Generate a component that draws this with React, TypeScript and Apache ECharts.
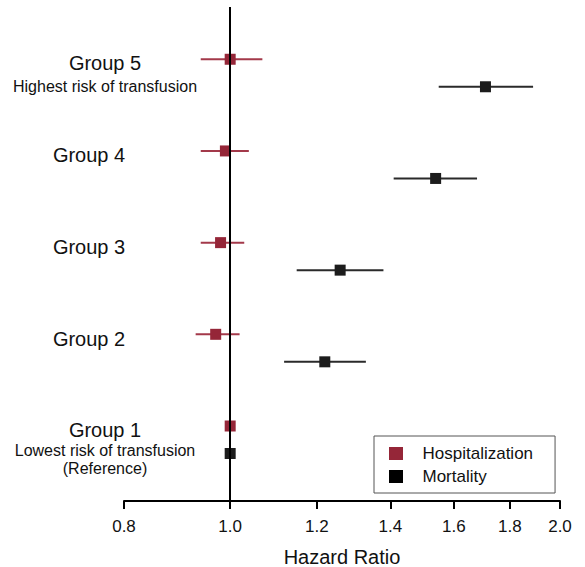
import React, { useEffect, useRef } from "react";
import * as echarts from "echarts";

// ---- Data (hazard ratios) ----
const groupNumbers = [1, 2, 3, 4, 5];
const hospHR = [1.0, 0.97, 0.98, 0.99, 1.0];
const hospLow = [1.0, 0.93, 0.94, 0.94, 0.94];
const hospHigh = [1.0, 1.02, 1.03, 1.04, 1.07];
const mortHR = [1.0, 1.22, 1.26, 1.54, 1.71];
const mortLow = [1.0, 1.12, 1.15, 1.41, 1.55];
const mortHigh = [1.0, 1.33, 1.38, 1.68, 1.89];
const mortOffset = 0.3; // mortality row sits just below the hospitalization row
const xTicks = [0.8, 1.0, 1.2, 1.4, 1.6, 1.8, 2.0];
const seriesNames = ["Hospitalization", "Mortality"];

// Row label lines: text, group, style, and vertical offset (axis units) below the group's row
const labelLines = [
  { group: 5, text: "Group 5", style: "main", off: 0.046 },
  { group: 5, text: "Highest risk of transfusion", style: "sub", off: 0.3 },
  { group: 4, text: "Group 4", style: "mainL", off: 0.049 },
  { group: 3, text: "Group 3", style: "mainL", off: 0.049 },
  { group: 2, text: "Group 2", style: "mainL", off: 0.049 },
  { group: 1, text: "Group 1", style: "main", off: 0.044 },
  { group: 1, text: "Lowest risk of transfusion", style: "sub", off: 0.269 },
  { group: 1, text: "(Reference)", style: "sub", off: 0.461 },
];

const HOSP_MARK = "#952638";
const HOSP_BAR = "#a3394a";
const MORT_MARK = "#1c1c1c";
const MORT_BAR = "#2a2a2a";
const FONT = "'Liberation Sans', Arial, Helvetica, sans-serif";

export default function App() {
  const ref = useRef<HTMLDivElement>(null);

  useEffect(() => {
    if (!ref.current) return;
    const chart = echarts.init(ref.current, undefined, { renderer: "svg" });
    const ln = Math.log;

    const labelValues = labelLines.map((l) => l.group - l.off);

    const hospPoints = groupNumbers.map((g, i) => [ln(hospHR[i]), g]);
    const mortPoints = groupNumbers.map((g, i) => [ln(mortHR[i]), g - mortOffset]);
    const hospBars = groupNumbers.map((g, i) => [ln(hospLow[i]), ln(hospHigh[i]), g]);
    const mortBars = groupNumbers.map((g, i) => [
      ln(mortLow[i]),
      ln(mortHigh[i]),
      g - mortOffset,
    ]);

    const barRender = (color: string) => (params: any, api: any) => {
      const y = api.value(2);
      const p1 = api.coord([api.value(0), y]);
      const p2 = api.coord([api.value(1), y]);
      return {
        type: "line",
        shape: { x1: p1[0], y1: p1[1], x2: p2[0], y2: p2[1] },
        style: { stroke: color, lineWidth: 2 },
      };
    };

    const iconPath = "path://M0,0L14,0L14,13L0,13Z";

    chart.setOption({
      animation: false,
      textStyle: { fontFamily: FONT },
      grid: {
        left: 124,
        width: 436,
        top: 7,
        height: 494,
        containLabel: false,
        outerBoundsMode: "none",
      },
      legend: {
        data: [
          { name: seriesNames[0], itemStyle: { color: HOSP_MARK, opacity: 1 } },
          { name: seriesNames[1], itemStyle: { color: "#000000", opacity: 1 } },
        ],
        orient: "vertical",
        left: 374,
        top: 436,
        padding: [9, 22, 8, 15],
        itemWidth: 43,
        itemHeight: 13,
        itemGap: 6,
        icon: iconPath,
        borderColor: "#555555",
        borderWidth: 1,
        textStyle: { fontSize: 17, color: "#111111", fontFamily: FONT, lineHeight: 17 },
      },
      xAxis: {
        type: "value",
        min: ln(xTicks[0]),
        max: ln(xTicks[xTicks.length - 1]),
        axisLine: { onZero: false, lineStyle: { color: "#000000", width: 2 } },
        axisTick: {
          show: true,
          inside: false,
          length: 8,
          customValues: xTicks.map((t) => ln(t)),
          lineStyle: { color: "#000000", width: 2 },
        },
        axisLabel: {
          customValues: xTicks.map((t) => ln(t)),
          formatter: (v: number) => Math.exp(v).toFixed(1),
          fontSize: 17,
          color: "#111111",
          margin: 17,
          fontFamily: FONT,
        },
        splitLine: { show: false },
        name: "Hazard Ratio",
        nameLocation: "middle",
        nameGap: 46,
        nameTextStyle: { fontSize: 20, color: "#111111", fontFamily: FONT },
      },
      yAxis: {
        type: "value",
        min: 0.182,
        max: 5.57,
        axisLine: { show: false },
        axisTick: { show: false },
        splitLine: { show: false },
        axisLabel: {
          show: true,
          customValues: labelValues,
          align: "center",
          verticalAlign: "middle",
          margin: 19,
          formatter: (v: number) => {
            let best = labelLines[0];
            let bd = Infinity;
            labelLines.forEach((l) => {
              const d = Math.abs(l.group - l.off - v);
              if (d < bd) {
                bd = d;
                best = l;
              }
            });
            return `{${best.style}|${best.text}}`;
          },
          rich: {
            main: { fontSize: 20, color: "#111111", fontFamily: FONT },
            mainL: {
              fontSize: 20,
              color: "#111111",
              fontFamily: FONT,
              padding: [0, 32, 0, 0],
            },
            sub: { fontSize: 16, color: "#111111", fontFamily: FONT },
          },
        },
      },
      series: [
        {
          type: "custom",
          name: "hospCI",
          renderItem: barRender(HOSP_BAR),
          data: hospBars,
          z: 1,
          silent: true,
        },
        {
          type: "custom",
          name: "mortCI",
          renderItem: barRender(MORT_BAR),
          data: mortBars,
          z: 1,
          silent: true,
        },
        {
          type: "scatter",
          name: seriesNames[0],
          data: hospPoints,
          symbol: "rect",
          symbolSize: 11,
          itemStyle: { color: HOSP_MARK, opacity: 1 },
          z: 3,
          markLine: {
            silent: true,
            symbol: "none",
            label: { show: false },
            lineStyle: { color: "#000000", width: 2, type: "solid" },
            data: [{ xAxis: 0 }],
            z: 5,
          },
        },
        {
          type: "scatter",
          name: seriesNames[1],
          data: mortPoints,
          symbol: "rect",
          symbolSize: 11,
          itemStyle: { color: MORT_MARK, opacity: 1 },
          z: 3,
        },
      ],
    });

    return () => chart.dispose();
  }, []);

  return (
    <div
      ref={ref}
      style={{ position: "absolute", left: 0, top: 0, width: 585, height: 567 }}
    />
  );
}
